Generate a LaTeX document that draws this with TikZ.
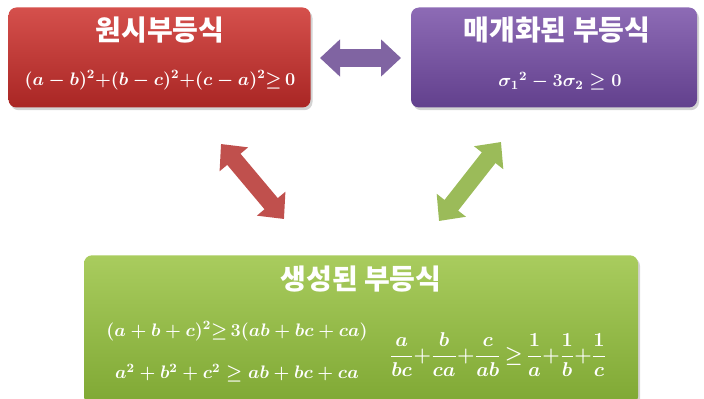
\RequirePackage{fix-cm}
\documentclass[tikz,border=0pt]{standalone}
\usepackage{fontspec}
\usepackage{amsmath,amssymb}
\newfontfamily\kr{Noto Sans CJK KR}
\usetikzlibrary{arrows.meta,shadows}
\definecolor{redA}{HTML}{D5504C}
\definecolor{redB}{HTML}{A92624}
\definecolor{purA}{HTML}{8D6BB5}
\definecolor{purB}{HTML}{62408D}
\definecolor{grnA}{HTML}{A9CC5E}
\definecolor{grnB}{HTML}{7FA834}
\definecolor{arrP}{HTML}{8064A2}
\definecolor{arrR}{HTML}{C0504D}
\definecolor{arrG}{HTML}{9BBB59}
\newcommand{\bmath}[1]{\mbox{\boldmath$#1$}}
\begin{document}
\begin{tikzpicture}[x=0.75pt,y=-0.75pt,
  box/.style={rounded corners=6pt, draw=none, inner sep=0pt,
    drop shadow={shadow xshift=1.5pt, shadow yshift=-2pt, opacity=0.35}},
  ttl/.style={text=white, font=\kr\bfseries\fontsize{21}{24}\selectfont},
  fml/.style={text=white, font=\fontsize{13.6}{16}\selectfont},
  dbl/.style={line width=#1, {Triangle[length=15pt,width=27pt]}-{Triangle[length=15pt,width=27pt]}}]
\useasboundingbox (0,0) rectangle (704,399);
\node[box, top color=redA, bottom color=redB, minimum width=226.5pt, minimum height=75pt] (orig) at (159.5,57.5) {};
\node[box, top color=purA, bottom color=purB, minimum width=214.5pt, minimum height=75pt] (param) at (554,57.5) {};
\node[box, top color=grnA, bottom color=grnB, minimum width=415.5pt, minimum height=112pt] (gen) at (361,330) {};
\node[ttl] (t1) at (160,30) {원시부등식};
\node[fml] (f1) at (160,80) {\bmath{(a-b)^2{+}(b-c)^2{+}(c-a)^2{\geq}\, 0}};
\node[ttl] (t2) at (557,30) {매개화된 부등식};
\node[fml] (f2) at (560,81) {\bmath{\sigma_1{}^2-3\sigma_2\geq 0}};
\node[ttl] (t3) at (361,279) {생성된 부등식};
\node[fml] (f3) at (237,331) {\bmath{(a+b+c)^2{\geq}\, 3(ab+bc+ca)}};
\node[fml] (f4) at (237,373) {\bmath{a^2+b^2+c^2\geq ab+bc+ca}};
\node[fml, font=\fontsize{15}{18}\selectfont] (f5) at (498,355) {\bmath{\dfrac{a}{bc}{+}\dfrac{b}{ca}{+}\dfrac{c}{ab}\,{\geq}\,\dfrac{1}{a}{+}\dfrac{1}{b}{+}\dfrac{1}{c}}};
\coordinate (h1) at (320,58);
\coordinate (h2) at (401,58);
\coordinate (r1) at (221,144);
\coordinate (r2) at (284,219);
\coordinate (g1) at (501,142);
\coordinate (g2) at (439,221);
\draw[dbl=14pt, arrP] (h1) -- (h2);
\draw[dbl=13pt, arrR] (r1) -- (r2);
\draw[dbl=13pt, arrG] (g1) -- (g2);
\end{tikzpicture}
\end{document}
